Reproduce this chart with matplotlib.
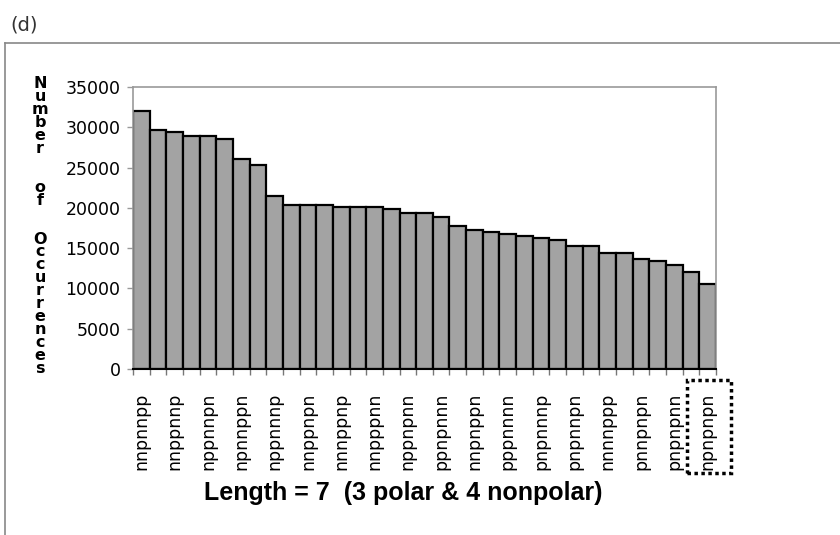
import matplotlib
matplotlib.use("Agg")
import matplotlib.pyplot as plt
from matplotlib.lines import Line2D
from matplotlib.patches import Rectangle

# occurrences of each length-7 pattern (3 polar, 4 nonpolar), sorted
counts = [32000, 29700, 29400, 28900, 28900, 28600, 26100, 25300, 21500, 20300,
          20300, 20400, 20100, 20100, 20100, 19900, 19300, 19300, 18900, 17800,
          17250, 17000, 16750, 16500, 16250, 15950, 15250, 15250, 14450, 14450,
          13700, 13400, 12850, 12100, 10550]
# only every other bar is labelled in the figure
shown_labels = ["nnpnnpp", "nnppnnp", "nppnnpn", "npnnppn", "nppnnnp", "nnppnpn",
                "nnnppnp", "nnpppnn", "nppnpnn", "ppnpnnn", "nnpnppn", "pppnnnn",
                "pnpnnnp", "pnpnnpn", "nnnnppp", "pnnpnpn", "pnpnpnn", "npnpnpn"]
yticks = [0, 5000, 10000, 15000, 20000, 25000, 30000, 35000]
ylabel = "Number of Occurrences"
xlabel = "Length = 7  (3 polar & 4 nonpolar)"

W, H = 840, 535
fig = plt.figure(figsize=(W / 100, H / 100), dpi=100)
ax = fig.add_axes([133 / W, 1 - 369 / H, (716 - 133) / W, (369 - 87) / H])

xs = list(range(len(counts)))
ax.bar(xs, counts, width=1.0, color="#a3a3a3", edgecolor="black", linewidth=1.6, zorder=2)

ax.set_xlim(-0.5, len(counts) - 0.5)
ax.set_ylim(0, 35000)
ax.set_yticks(yticks)
ax.set_yticklabels([str(v) for v in yticks], fontsize=12.5, family="DejaVu Sans")
ax.tick_params(axis="y", direction="out", length=4, width=1, color="#999999", pad=5)

# labels under every second bar, tick marks at bar boundaries
ax.set_xticks(xs[::2])
ax.set_xticklabels(shown_labels, rotation=90, fontsize=12.5, family="DejaVu Sans")
ax.tick_params(axis="x", which="major", length=0, pad=17)
ax.set_xticks([x - 0.5 for x in xs] + [len(counts) - 0.5], minor=True)
ax.tick_params(axis="x", which="minor", direction="out", length=4, width=1, color="#777777")

for side in ["top", "right", "left"]:
    ax.spines[side].set_color("#999999")
    ax.spines[side].set_linewidth(1.2)
ax.spines["bottom"].set_color("black")
ax.spines["bottom"].set_linewidth(1.5)

# stacked bold letters for the y label, one text object (word gaps = 2 blank lines)
stacked = "\n".join(ch if ch != " " else "\n" for ch in ylabel)
fig.text(40 / W, 1 - 76 / H, stacked, fontsize=11.5, fontweight="bold", ha="center", va="top",
         multialignment="center", linespacing=0.83, family="DejaVu Sans")

fig.text(403 / W, 1 - 493 / H, xlabel, fontsize=18, fontweight="bold", ha="center", va="center",
         family=["Liberation Sans Narrow", "Liberation Sans", "DejaVu Sans"])

fig.text(10 / W, 1 - 25 / H, "(d)", fontsize=14, color="#333333", ha="left", va="center",
         family="DejaVu Sans")

# panel frame (top and left edge)
fig.add_artist(Line2D([5 / W, 1], [1 - 43 / H, 1 - 43 / H], color="#888888", lw=1.2))
fig.add_artist(Line2D([5 / W, 5 / W], [0, 1 - 43 / H], color="#888888", lw=1.2))

# dotted box around the last label
fig.canvas.draw()
bb = ax.get_xticklabels()[-1].get_window_extent()
fig.add_artist(Rectangle((bb.x0 - 12, bb.y0 - 3), bb.width + 26, bb.height + 16,
                         transform=None, fill=False, ec="black", lw=2.5, ls=(0, (1, 1))))

fig.savefig("out.png", dpi=100)
